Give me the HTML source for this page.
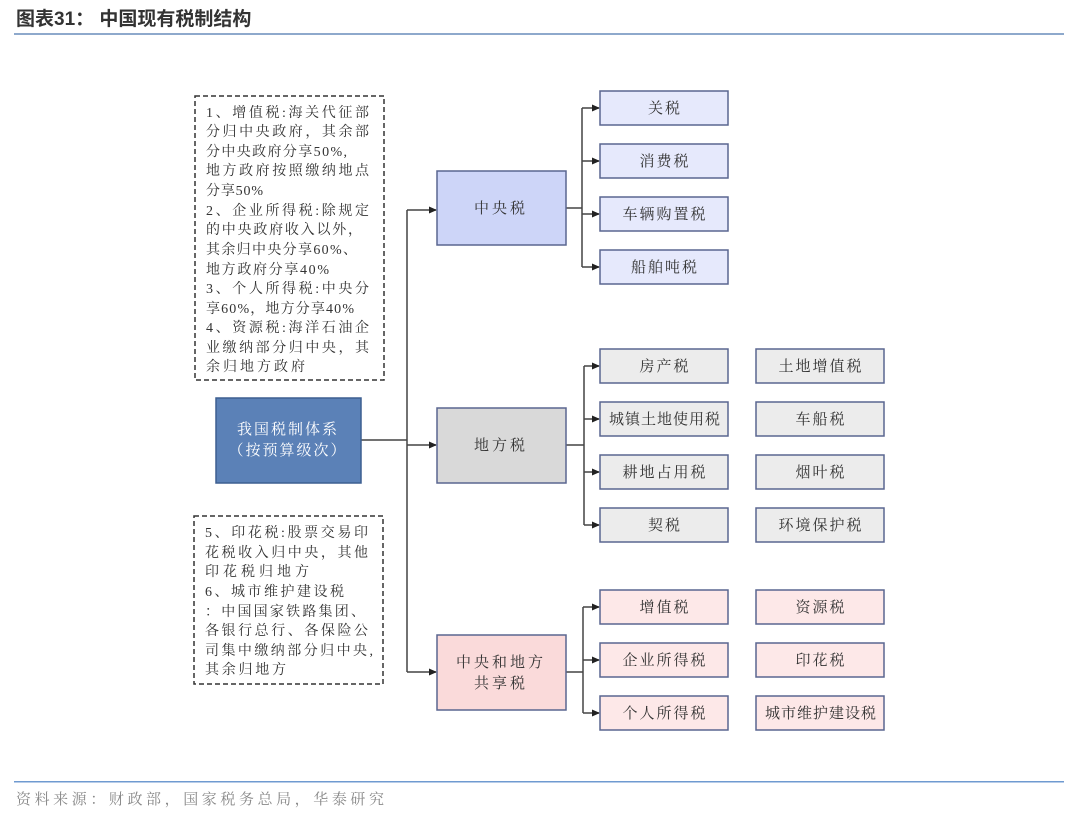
<!DOCTYPE html>
<html><head><meta charset="utf-8"><style>
html,body{margin:0;padding:0;background:#fff;}
svg{display:block;}
text{font-family:"Liberation Serif","Noto Serif CJK SC",serif;fill:#333;}
</style></head><body>
<svg width="1080" height="817" viewBox="0 0 1080 817" xmlns="http://www.w3.org/2000/svg">
<defs>
<marker id="a" markerWidth="8" markerHeight="8" refX="7" refY="4" orient="auto" markerUnits="userSpaceOnUse">
<path d="M0,0.5 L8,4 L0,7.5 Z" fill="#222"/></marker>
</defs>
<text x="16" y="25" font-size="19" font-weight="bold" style="font-family:'Liberation Sans','Noto Sans CJK SC',sans-serif" fill="#000">图表31：  中国现有税制结构</text>
<rect x="14" y="33" width="1050" height="2" fill="#8ea9cc"/>
<rect x="14" y="781" width="1050" height="1.5" fill="#6f9ad0"/>
<text x="16" y="804" font-size="15" textLength="368" style="fill:#888">资料来源：财政部，国家税务总局，华泰研究</text>

<g stroke="#444" stroke-width="1.5" fill="none">
<line x1="361" y1="440" x2="407" y2="440"/>
<line x1="407" y1="210" x2="407" y2="672"/>
<line x1="407" y1="210" x2="436" y2="210" marker-end="url(#a)"/>
<line x1="407" y1="445" x2="436" y2="445" marker-end="url(#a)"/>
<line x1="407" y1="672" x2="436" y2="672" marker-end="url(#a)"/>
<line x1="566" y1="208" x2="582" y2="208"/>
<line x1="582" y1="108" x2="582" y2="267"/>
<line x1="582" y1="108" x2="599" y2="108" marker-end="url(#a)"/>
<line x1="582" y1="161" x2="599" y2="161" marker-end="url(#a)"/>
<line x1="582" y1="214" x2="599" y2="214" marker-end="url(#a)"/>
<line x1="582" y1="267" x2="599" y2="267" marker-end="url(#a)"/>
<line x1="566" y1="445" x2="584" y2="445"/>
<line x1="584" y1="366" x2="584" y2="525"/>
<line x1="584" y1="366" x2="599" y2="366" marker-end="url(#a)"/>
<line x1="584" y1="419" x2="599" y2="419" marker-end="url(#a)"/>
<line x1="584" y1="472" x2="599" y2="472" marker-end="url(#a)"/>
<line x1="584" y1="525" x2="599" y2="525" marker-end="url(#a)"/>
<line x1="566" y1="672" x2="583" y2="672"/>
<line x1="583" y1="607" x2="583" y2="713"/>
<line x1="583" y1="607" x2="599" y2="607" marker-end="url(#a)"/>
<line x1="583" y1="660" x2="599" y2="660" marker-end="url(#a)"/>
<line x1="583" y1="713" x2="599" y2="713" marker-end="url(#a)"/>
</g>

<rect x="216" y="398" width="145" height="85" fill="#5b81b7" stroke="#3d5f91" stroke-width="1.5"/>
<text x="288" y="434" font-size="15" text-anchor="middle" style="fill:#fff;letter-spacing:2px">我国税制体系</text>
<text x="288" y="455" font-size="15" text-anchor="middle" style="fill:#fff;letter-spacing:2px">（按预算级次）</text>

<rect x="437" y="171" width="129" height="74" fill="#cdd5f8" stroke="#5a6690" stroke-width="1.5"/>
<text x="501" y="213" font-size="15" text-anchor="middle" style="letter-spacing:3px">中央税</text>
<rect x="437" y="408" width="129" height="75" fill="#d9d9d9" stroke="#5a6690" stroke-width="1.5"/>
<text x="501" y="450" font-size="15" text-anchor="middle" style="letter-spacing:3px">地方税</text>
<rect x="437" y="635" width="129" height="75" fill="#fadada" stroke="#5a6690" stroke-width="1.5"/>
<text x="501" y="667" font-size="15" text-anchor="middle" style="letter-spacing:3px">中央和地方</text>
<text x="501" y="688" font-size="15" text-anchor="middle" style="letter-spacing:3px">共享税</text>

<g stroke="#5a6690" stroke-width="1.5">
<rect x="600" y="91" width="128" height="34" fill="#e6e9fc"/>
<rect x="600" y="144" width="128" height="34" fill="#e6e9fc"/>
<rect x="600" y="197" width="128" height="34" fill="#e6e9fc"/>
<rect x="600" y="250" width="128" height="34" fill="#e6e9fc"/>
<rect x="600" y="349" width="128" height="34" fill="#ececec"/>
<rect x="600" y="402" width="128" height="34" fill="#ececec"/>
<rect x="600" y="455" width="128" height="34" fill="#ececec"/>
<rect x="600" y="508" width="128" height="34" fill="#ececec"/>
<rect x="756" y="349" width="128" height="34" fill="#ececec"/>
<rect x="756" y="402" width="128" height="34" fill="#ececec"/>
<rect x="756" y="455" width="128" height="34" fill="#ececec"/>
<rect x="756" y="508" width="128" height="34" fill="#ececec"/>
<rect x="600" y="590" width="128" height="34" fill="#fde8e8"/>
<rect x="600" y="643" width="128" height="34" fill="#fde8e8"/>
<rect x="600" y="696" width="128" height="34" fill="#fde8e8"/>
<rect x="756" y="590" width="128" height="34" fill="#fde8e8"/>
<rect x="756" y="643" width="128" height="34" fill="#fde8e8"/>
<rect x="756" y="696" width="128" height="34" fill="#fde8e8"/>
</g>
<g font-size="15" text-anchor="middle" style="letter-spacing:2px">
<text x="665" y="113">关税</text>
<text x="665" y="166">消费税</text>
<text x="665" y="219">车辆购置税</text>
<text x="665" y="272">船舶吨税</text>
<text x="665" y="371">房产税</text>
<text x="665" y="424" style="letter-spacing:1px">城镇土地使用税</text>
<text x="665" y="477">耕地占用税</text>
<text x="665" y="530">契税</text>
<text x="821" y="371">土地增值税</text>
<text x="821" y="424">车船税</text>
<text x="821" y="477">烟叶税</text>
<text x="821" y="530">环境保护税</text>
<text x="665" y="612">增值税</text>
<text x="665" y="665">企业所得税</text>
<text x="665" y="718">个人所得税</text>
<text x="821" y="612">资源税</text>
<text x="821" y="665">印花税</text>
<text x="821" y="718" style="letter-spacing:1px">城市维护建设税</text>
</g>

<rect x="195" y="96" width="189" height="284" fill="none" stroke="#333" stroke-width="1.5" stroke-dasharray="5,3"/>
<g font-size="14">
<text x="206" y="117" textLength="163">1、增值税:海关代征部</text>
<text x="206" y="136" textLength="163">分归中央政府，其余部</text>
<text x="206" y="156" textLength="141">分中央政府分享50%,</text>
<text x="206" y="175" textLength="163">地方政府按照缴纳地点</text>
<text x="206" y="195" textLength="57">分享50%</text>
<text x="206" y="215" textLength="163">2、企业所得税:除规定</text>
<text x="206" y="234" textLength="156">的中央政府收入以外，</text>
<text x="206" y="254" textLength="151">其余归中央分享60%、</text>
<text x="206" y="274" textLength="123">地方政府分享40%</text>
<text x="206" y="293" textLength="163">3、个人所得税:中央分</text>
<text x="206" y="313" textLength="148">享60%，地方分享40%</text>
<text x="206" y="332" textLength="163">4、资源税:海洋石油企</text>
<text x="206" y="352" textLength="163">业缴纳部分归中央，其</text>
<text x="206" y="371" textLength="99">余归地方政府</text>
</g>
<rect x="194" y="516" width="189" height="168" fill="none" stroke="#333" stroke-width="1.5" stroke-dasharray="5,3"/>
<g font-size="14">
<text x="205" y="537" textLength="163">5、印花税:股票交易印</text>
<text x="205" y="557" textLength="163">花税收入归中央，其他</text>
<text x="205" y="576" textLength="104">印花税归地方</text>
<text x="205" y="596" textLength="139">6、城市维护建设税</text>
<text x="205" y="616" textLength="160">：中国国家铁路集团、</text>
<text x="205" y="635" textLength="163">各银行总行、各保险公</text>
<text x="205" y="655" textLength="168">司集中缴纳部分归中央,</text>
<text x="205" y="674" textLength="81">其余归地方</text>
</g>
</svg>
</body></html>
